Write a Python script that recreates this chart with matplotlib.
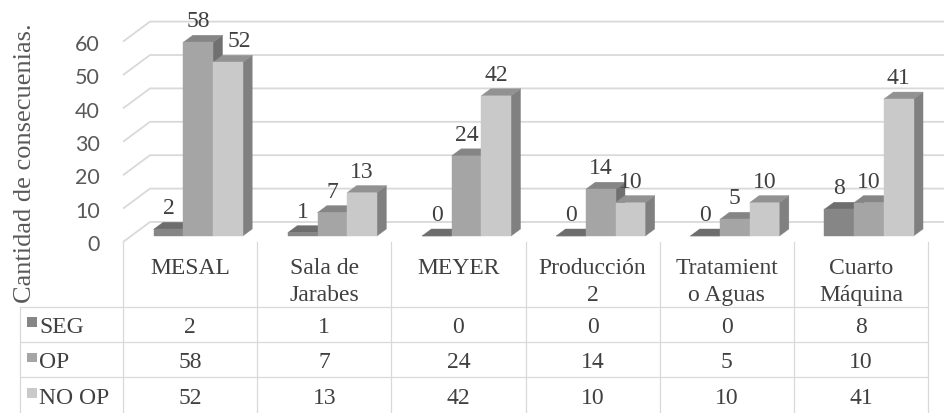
import matplotlib
matplotlib.use("Agg")
import matplotlib.pyplot as plt
from matplotlib.patches import Polygon, Rectangle
from matplotlib.transforms import Affine2D, blended_transform_factory, offset_copy

# ---- data -------------------------------------------------------------
categories = ["MESAL", "Sala de\nJarabes", "MEYER", "Producción\n2",
              "Tratamient\no Aguas", "Cuarto\nMáquina"]
series_names = ["SEG", "OP", "NO OP"]
seg = [2, 1, 0, 0, 0, 8]
op = [58, 7, 24, 14, 5, 10]
no_op = [52, 13, 42, 10, 10, 41]
y_ticks = [0, 10, 20, 30, 40, 50, 60]
y_title = "Cantidad de consecuenias."

series = [seg, op, no_op]

# ---- style ------------------------------------------------------------
front_col = ["#868686", "#a5a5a5", "#c9c9c9"]
top_col = ["#6d6d6d", "#858585", "#929292"]
side_col = ["#5e5e5e", "#707070", "#808080"]
grid_col = "#d9d9d9"
text_col = "#404040"
tick_col = "#595959"
SERIF = "Liberation Serif"

W, H = 944, 414
fig = plt.figure(figsize=(W / 100, H / 100), dpi=100)

# category area and value scale (front edge of the floor)
X0, X1 = 123, 928
Y_ZERO = 243
PX_PER_UNIT = 3.34
n_cat = len(categories)
px_per_cat = (X1 - X0) / n_cat

ax = fig.add_axes([X0 / W, 0, (X1 - X0) / W, 1])
ax.set_xlim(-0.5, n_cat - 0.5)
ax.set_ylim(-(H - Y_ZERO) / PX_PER_UNIT, Y_ZERO / PX_PER_UNIT)
ax.axis("off")

# oblique depth of the floor (pixels), converted to data units
DEPTH_PX = (27, 20)


def depth(f):
    return f * DEPTH_PX[0] / px_per_cat, f * DEPTH_PX[1] / PX_PER_UNIT


# ---- walls / gridlines ----------------------------------------------
bdx, bdy = depth(1.0)
for v in y_ticks:
    ax.plot([-0.5, -0.5 + bdx, n_cat + 1], [v, v + bdy, v + bdy],
            color=grid_col, lw=1.3, clip_on=False, zorder=1,
            solid_capstyle="butt")

tick_tr = offset_copy(ax.transData, fig=fig, x=-23, y=-8.3, units="dots")
for v in y_ticks:
    ax.text(-0.5, v, str(v), transform=tick_tr, ha="right", va="baseline",
            fontsize=15.5, family="Lato", color=tick_col)

# ---- 3D columns -------------------------------------------------------
BAR_W = 29.7 / px_per_cat
F0, F1 = 0.30, 0.65
fx, fy = depth(F0)
ddx, ddy = depth(F1 - F0)
label_nudge_px = {(0, 2): 11}

z = 2
for i in range(n_cat):
    for j, vals in enumerate(series):
        v = vals[i]
        xl = i - 1.5 * BAR_W + j * BAR_W + fx
        xr = xl + BAR_W
        y0 = fy
        y1 = v + fy
        side = [(xr, y0), (xr, y1), (xr + ddx, y1 + ddy), (xr + ddx, y0 + ddy)]
        top = [(xl, y1), (xr, y1), (xr + ddx, y1 + ddy), (xl + ddx, y1 + ddy)]
        ax.add_patch(Polygon(side, closed=True, facecolor=side_col[j],
                             edgecolor=side_col[j], lw=0.3, zorder=z))
        ax.add_patch(Polygon(top, closed=True, facecolor=top_col[j],
                             edgecolor=top_col[j], lw=0.3, zorder=z + 1))
        ax.add_patch(Rectangle((xl, y0), BAR_W, v, facecolor=front_col[j],
                               edgecolor=front_col[j], lw=0.3, zorder=z + 2))
        z += 3
        nudge = label_nudge_px.get((i, j), 0)
        ax.annotate(str(v), xy=(xl + BAR_W / 2, y1),
                    xytext=(nudge * 0.72, 16 * 0.72), textcoords="offset points",
                    ha="center", va="baseline", fontsize=17, family=SERIF,
                    color=text_col, zorder=200)

# ---- data table -------------------------------------------------------
TOP_PX = Affine2D().scale(1 / W, -1 / H).translate(0, 1) + fig.transFigure
col_tr = blended_transform_factory(ax.transData, TOP_PX)

TABLE_TOP = 243
ROW_LINES = [308, 343, 378]
LEFT_X = 20

for k in range(n_cat + 1):
    ax.plot([k - 0.5, k - 0.5], [TABLE_TOP, H + 2], transform=col_tr,
            color=grid_col, lw=0.9, clip_on=False, zorder=1)
ax.plot([LEFT_X, LEFT_X], [ROW_LINES[0], H + 2], transform=TOP_PX,
        color=grid_col, lw=0.9, clip_on=False, zorder=1)
for yl in ROW_LINES:
    ax.plot([LEFT_X, X1], [yl, yl], transform=TOP_PX, color=grid_col,
            lw=0.9, clip_on=False, zorder=1)

HEADER_BASELINES = [274, 301]
for i, name in enumerate(categories):
    for li, line in enumerate(name.split("\n")):
        ax.text(i, HEADER_BASELINES[li], line, transform=col_tr,
                ha="center", va="baseline", fontsize=17, family=SERIF,
                color=text_col)

ROW_BASELINES = [333, 368.5, 404.5]
for j, (sname, vals) in enumerate(zip(series_names, series)):
    yb = ROW_BASELINES[j]
    ax.add_patch(Rectangle((27, yb - 15), 9.5, 9.5, transform=TOP_PX,
                           facecolor=front_col[j], edgecolor="none",
                           clip_on=False))
    ax.text(39, yb, sname, transform=TOP_PX, ha="left", va="baseline",
            fontsize=17, family=SERIF, color=text_col)
    for i, v in enumerate(vals):
        ax.text(i, yb, str(v), transform=col_tr, ha="center", va="baseline",
                fontsize=17, family=SERIF, color=text_col)

# ---- axis title -------------------------------------------------------
fig.text(25 / W, 1 - 163 / H, y_title, rotation=90, ha="center", va="center",
         fontsize=19, family=SERIF, color=tick_col)

fig.savefig("out.png", dpi=100, facecolor="white")
